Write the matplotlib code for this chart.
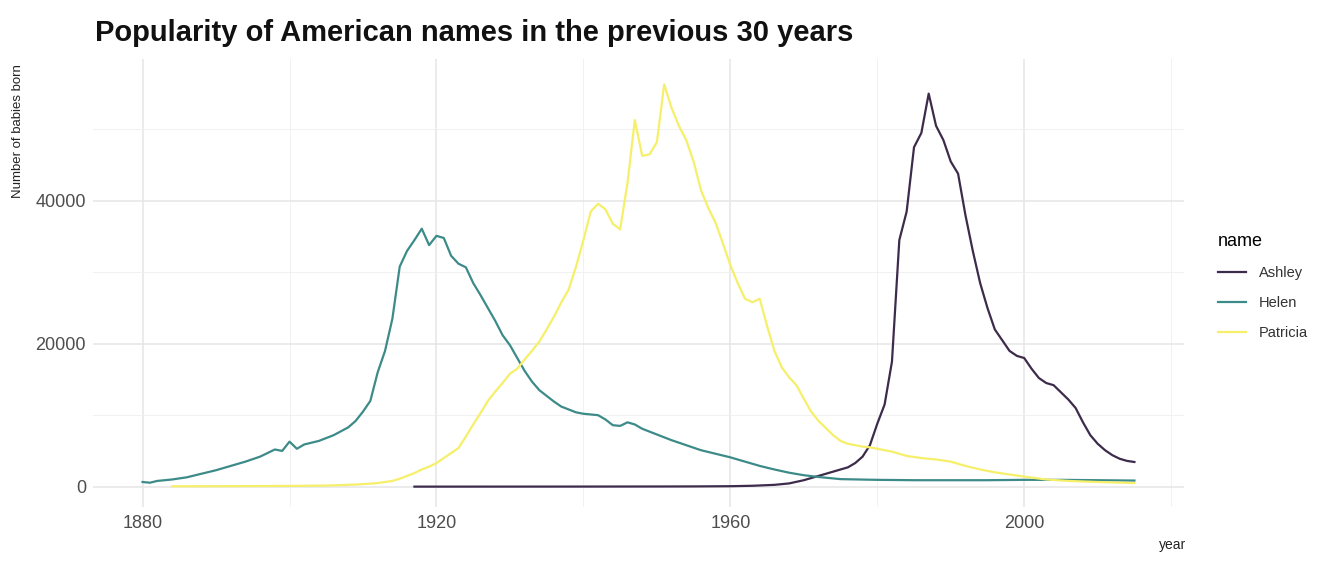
import matplotlib
matplotlib.use("Agg")
import matplotlib.pyplot as plt
from matplotlib.ticker import MultipleLocator

plt.rcParams['font.family'] = ['Liberation Sans', 'DejaVu Sans']

# ---- data ----
helen_years = [1880, 1881, 1882, 1884, 1886, 1888, 1890, 1892, 1894, 1896, 1897, 1898, 1899,
               1900, 1901, 1902, 1904, 1906, 1908, 1909, 1910, 1911, 1912, 1913, 1914, 1915,
               1916, 1917, 1918, 1919, 1920, 1921, 1922, 1923, 1924, 1925, 1926, 1927, 1928,
               1929, 1930, 1931, 1932, 1933, 1934, 1935, 1936, 1937, 1938, 1939, 1940, 1941,
               1942, 1943, 1944, 1945, 1946, 1947, 1948, 1949, 1950, 1951, 1952, 1954, 1956,
               1958, 1960, 1962, 1964, 1966, 1968, 1970, 1972, 1975, 1980, 1985, 1990, 1995,
               2000, 2005, 2010, 2015]
helen_counts = [650, 550, 800, 1000, 1300, 1800, 2300, 2900, 3500, 4200, 4700, 5200, 5000,
                6300, 5300, 5900, 6400, 7200, 8300, 9200, 10500, 12000, 16000, 19000, 23500, 30800,
                33000, 34500, 36100, 33800, 35100, 34800, 32300, 31200, 30700, 28500, 26800, 25000, 23200,
                21200, 19800, 18000, 16200, 14700, 13500, 12700, 11900, 11200, 10800, 10400, 10200, 10100,
                10000, 9400, 8600, 8500, 9000, 8700, 8100, 7700, 7300, 6900, 6500, 5800, 5100,
                4600, 4100, 3500, 2900, 2400, 1950, 1600, 1350, 1050, 950, 900, 900, 900,
                950, 950, 900, 850]

patricia_years = [1884, 1890, 1895, 1900, 1905, 1908, 1910, 1912, 1914, 1915, 1916, 1917, 1918,
                  1919, 1920, 1921, 1922, 1923, 1924, 1925, 1926, 1927, 1928, 1929, 1930, 1931,
                  1932, 1933, 1934, 1935, 1936, 1937, 1938, 1939, 1940, 1941, 1942, 1943, 1944,
                  1945, 1946, 1947, 1948, 1949, 1950, 1951, 1952, 1953, 1954, 1955, 1956, 1957,
                  1958, 1959, 1960, 1961, 1962, 1963, 1964, 1965, 1966, 1967, 1968, 1969, 1970,
                  1971, 1972, 1973, 1974, 1975, 1976, 1977, 1978, 1979, 1980, 1981, 1982, 1983,
                  1984, 1986, 1988, 1990, 1992, 1994, 1996, 1998, 2000, 2003, 2006, 2010, 2015]
patricia_counts = [50, 60, 80, 100, 150, 250, 350, 500, 800, 1100, 1500, 1900, 2400,
                   2800, 3300, 4000, 4700, 5400, 7000, 8700, 10300, 12000, 13300, 14500, 15800, 16500,
                   17800, 19000, 20300, 22000, 23800, 25800, 27600, 30800, 34500, 38500, 39600, 38800, 36800,
                   36000, 42500, 51300, 46300, 46500, 48200, 56300, 53000, 50500, 48500, 45500, 41500, 39000,
                   36900, 34000, 31000, 28500, 26300, 25800, 26300, 22500, 19000, 16700, 15300, 14200, 12300,
                   10500, 9200, 8200, 7200, 6400, 6000, 5800, 5600, 5500, 5300, 5100, 4900, 4600,
                   4300, 4000, 3800, 3500, 2900, 2400, 2000, 1700, 1400, 1000, 800, 650, 500]

ashley_years = [1917, 1930, 1940, 1950, 1955, 1960, 1963, 1966, 1968, 1970, 1972, 1974,
                1976, 1977, 1978, 1979, 1980, 1981, 1982, 1983, 1984, 1985, 1986, 1987, 1988,
                1989, 1990, 1991, 1992, 1993, 1994, 1995, 1996, 1997, 1998, 1999, 2000, 2001,
                2002, 2003, 2004, 2005, 2006, 2007, 2008, 2009, 2010, 2011, 2012, 2013, 2014, 2015]
ashley_counts = [0, 5, 10, 20, 30, 60, 120, 250, 450, 900, 1500, 2100,
                 2700, 3300, 4200, 5800, 8800, 11500, 17500, 34500, 38500, 47500, 49500, 55000, 50500,
                 48500, 45500, 43800, 38000, 33000, 28500, 25000, 22000, 20500, 19000, 18300, 18000, 16500,
                 15200, 14500, 14200, 13200, 12200, 11000, 9000, 7200, 6000, 5100, 4400, 3900, 3600, 3450]

series_names = ["Ashley", "Helen", "Patricia"]
series_colors = ["#3d2b4c", "#3c8b89", "#f6ef6a"]

x_ticks = [1880, 1920, 1960, 2000]
y_ticks = [0, 20000, 40000]

# ---- figure ----
fig = plt.figure(figsize=(13.22, 5.81), dpi=100)
ax = fig.add_axes([93/1322, 74/581, (1184-93)/1322, (507-59)/581])

data = [(ashley_years, ashley_counts), (helen_years, helen_counts), (patricia_years, patricia_counts)]
for (yrs, cnt), nm, col in zip(data, series_names, series_colors):
    ax.plot(yrs, cnt, color=col, lw=1.6, label=nm, solid_joinstyle='round')

ax.set_xlim(1873.25, 2021.75)
ax.set_ylim(-2850, 59850)
ax.set_xticks(x_ticks)
ax.set_yticks(y_ticks)
ax.set_xticklabels([str(v) for v in x_ticks])
ax.set_yticklabels([str(v) for v in y_ticks])
ax.xaxis.set_minor_locator(MultipleLocator(20))
ax.yaxis.set_minor_locator(MultipleLocator(10000))
ax.grid(which='major', color='#e6e6e6', lw=1.1)
ax.grid(which='minor', color='#efefef', lw=0.6)
ax.set_axisbelow(True)
for s in ax.spines.values():
    s.set_visible(False)
ax.tick_params(which='both', length=0)
ax.tick_params(axis='x', labelsize=13, labelcolor='#4d4d4d', pad=6)
ax.tick_params(axis='y', labelsize=13, labelcolor='#4d4d4d', pad=5)

fig.text(95/1322, 1 - 33/581, "Popularity of American names in the previous 30 years",
         fontsize=21, fontweight='bold', ha='left', va='center', color='#111111')
fig.text(18/1322, 1 - 64/581, "Number of babies born", rotation=90, fontsize=9.5,
         ha='center', va='top', color='#222222')
fig.text(1186/1322, 1 - 545/581, "year", fontsize=10, ha='right', va='center', color='#222222')

leg = ax.legend(loc='upper left', bbox_to_anchor=(1205/1322, 1 - 220/581),
                bbox_transform=fig.transFigure, frameon=False, title='name',
                fontsize=10.5, title_fontsize=13, handlelength=1.9, handletextpad=0.9,
                labelspacing=1.1, alignment='left')
for t in leg.get_texts():
    t.set_color('#333333')

fig.savefig("out.png", dpi=100)
